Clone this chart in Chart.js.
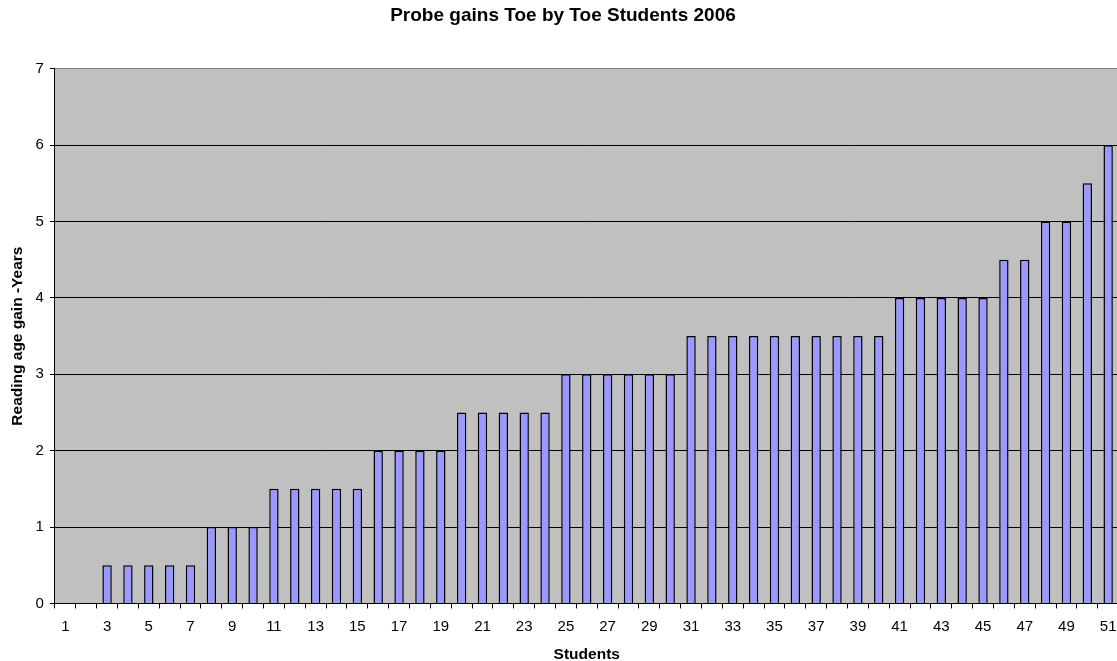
<!DOCTYPE html>
<html lang="en">

<head>
    <meta charset="UTF-8">
    <title>Probe gains Toe by Toe Students 2006</title>
    <script src="https://cdn.jsdelivr.net/npm/chart.js"></script>
    <style>
        html, body { margin: 0; padding: 0; background: #fff; overflow: hidden; }
        #wrap { width: 1126px; height: 664px; }
    </style>
</head>

<body>
    <div id="wrap"><canvas id="myChart"></canvas></div>

    <script>
        // student numbers along the bottom
        const students = [
            '1', '2', '3', '4', '5', '6', '7', '8', '9', '10',
            '11', '12', '13', '14', '15', '16', '17', '18', '19', '20',
            '21', '22', '23', '24', '25', '26', '27', '28', '29', '30',
            '31', '32', '33', '34', '35', '36', '37', '38', '39', '40',
            '41', '42', '43', '44', '45', '46', '47', '48', '49', '50', '51'
        ];

        // reading age gain in years, one per student
        const gains = [
            0, 0, 0.5, 0.5, 0.5, 0.5, 0.5, 1, 1, 1,
            1.5, 1.5, 1.5, 1.5, 1.5, 2, 2, 2, 2, 2.5,
            2.5, 2.5, 2.5, 2.5, 3, 3, 3, 3, 3, 3,
            3.5, 3.5, 3.5, 3.5, 3.5, 3.5, 3.5, 3.5, 3.5, 3.5,
            4, 4, 4, 4, 4, 4.5, 4.5, 5, 5, 5.5, 6
        ];

        const yTicks = [0, 1, 2, 3, 4, 5, 6, 7];

        const FONT = '"Liberation Sans", Arial, sans-serif';

        // grey plot area behind the bars
        const plotBackground = {
            id: 'plotBackground',
            beforeDraw(chart) {
                const { ctx, chartArea } = chart;
                ctx.save();
                ctx.fillStyle = '#C0C0C0';
                ctx.fillRect(chartArea.left, chartArea.top, chartArea.right - chartArea.left, chartArea.bottom - chartArea.top);
                ctx.restore();
            }
        };

        const ctx = document.getElementById('myChart').getContext('2d');
        new Chart(ctx, {
            type: 'bar',
            data: {
                labels: students,
                datasets: [{
                    label: 'Reading age gain',
                    data: gains,
                    backgroundColor: '#9999FF',
                    borderColor: '#000000',
                    borderWidth: 1.5,
                    barPercentage: 0.45,
                    categoryPercentage: 1
                }]
            },
            options: {
                responsive: true,
                maintainAspectRatio: false,
                animation: false,
                layout: { padding: 0 },
                plugins: {
                    legend: { display: false },
                    tooltip: { enabled: false },
                    title: {
                        display: true,
                        text: 'Probe gains Toe by Toe Students 2006',
                        color: '#000',
                        font: { family: FONT, size: 19, weight: 'bold' },
                        padding: { top: 4, bottom: 42 }
                    }
                },
                scales: {
                    x: {
                        offset: true,
                        grid: {
                            offset: true,
                            drawOnChartArea: false,
                            color: '#000',
                            tickLength: 5,
                            tickColor: '#000'
                        },
                        border: { color: '#000', width: 1 },
                        ticks: {
                            autoSkip: false,
                            maxRotation: 0,
                            padding: 9.5,
                            color: '#000',
                            font: { family: FONT, size: 15 },
                            callback: (val, i) => (i % 2 === 0 ? students[i] : '')
                        },
                        title: {
                            display: true,
                            text: 'Students',
                            color: '#000',
                            font: { family: FONT, size: 15.5, weight: 'bold' },
                            padding: { top: 0, bottom: 0 }
                        }
                    },
                    y: {
                        min: 0,
                        max: 7,
                        afterBuildTicks: (axis) => {
                            axis.ticks = yTicks.map(v => ({ value: v }));
                        },
                        grid: {
                            color: (c) => (c.tick && c.tick.value === 7 ? '#808080' : '#000'),
                            tickColor: '#000',
                            tickLength: 5
                        },
                        border: { color: '#000', width: 1 },
                        ticks: {
                            padding: 6,
                            color: '#000',
                            font: { family: FONT, size: 15 }
                        },
                        title: {
                            display: true,
                            text: 'Reading age gain -Years',
                            color: '#000',
                            font: { family: FONT, size: 15.5, weight: 'bold' },
                            padding: { top: 8, bottom: 3 }
                        }
                    }
                }
            },
            plugins: [plotBackground]
        });
    </script>
</body>

</html>
